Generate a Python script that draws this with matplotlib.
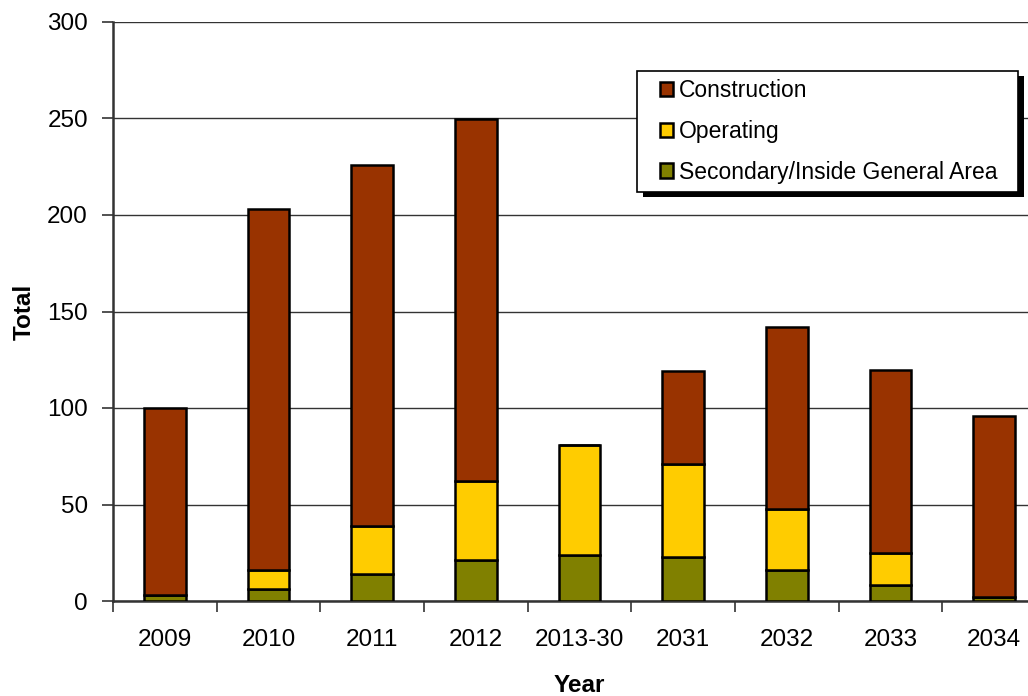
import matplotlib
matplotlib.use("Agg")
import matplotlib.pyplot as plt
from matplotlib.patches import Rectangle
import numpy as np

plt.rcParams['font.family'] = ['Liberation Sans', 'DejaVu Sans']

years = ["2009", "2010", "2011", "2012", "2013-30", "2031", "2032", "2033", "2034"]
secondary = [3, 6, 14, 21, 24, 23, 16, 8.5, 2]
operating = [0, 10, 25, 41, 57, 48, 31.5, 16.5, 0]
construction = [97, 187, 187, 188, 0, 48, 94.5, 94.5, 94]

c_cons = "#993300"
c_op = "#FFCC00"
c_sec = "#808000"

W, H = 1028, 696
fig = plt.figure(figsize=(W / 100, H / 100), dpi=100)
ax = fig.add_axes([113 / W, 1 - 601 / H, 933 / W, 579 / H])

x = np.arange(len(years))
sec = np.array(secondary)
op = np.array(operating)
cons = np.array(construction)
bw = 0.405
ekw = dict(edgecolor="black", linewidth=1.8, zorder=3)
ax.bar(x, sec, bw, color=c_sec, label="Secondary/Inside General Area", **ekw)
ax.bar(x, op, bw, bottom=sec, color=c_op, label="Operating", **ekw)
ax.bar(x, cons, bw, bottom=sec + op, color=c_cons, label="Construction", **ekw)

ax.set_xlim(-0.5, len(years) - 0.5)
ax.set_ylim(0, 300)
ax.set_yticks(range(0, 301, 50))
ax.yaxis.grid(True, color="#333333", linewidth=1.0, zorder=0)
ax.set_axisbelow(True)

# x ticks at category boundaries, labels at centers
ax.set_xticks(np.arange(len(years) + 1) - 0.5)
ax.set_xticklabels([])
ax.set_xticks(x, minor=True)
ax.set_xticklabels(years, minor=True)
ax.tick_params(axis="x", which="major", length=8, width=1.2, color="#333333", direction="out")
ax.tick_params(axis="x", which="minor", length=0, pad=20, labelsize=17.5)
ax.tick_params(axis="y", length=8, width=1.2, color="#333333", labelsize=17.5, pad=10)

for s in ["top", "right"]:
    ax.spines[s].set_visible(False)
ax.spines["left"].set_color("#333333")
ax.spines["left"].set_linewidth(1.8)
ax.spines["bottom"].set_color("#333333")
ax.spines["bottom"].set_linewidth(1.8)

ax.set_ylabel("Total", fontsize=17.5, fontweight="bold", labelpad=8)
ax.set_xlabel("Year", fontsize=17.5, fontweight="bold", labelpad=17)

# legend box with hard black shadow
lx0, lx1, ly0, ly1 = 637, 1018, 71, 192
fig.add_artist(Rectangle(((lx0 + 6) / W, 1 - (ly1 + 5) / H), (lx1 - lx0) / W, (ly1 - ly0) / H,
                         transform=fig.transFigure, facecolor="black", edgecolor="none", zorder=8))
fig.add_artist(Rectangle((lx0 / W, 1 - ly1 / H), (lx1 - lx0) / W, (ly1 - ly0) / H,
                         transform=fig.transFigure, facecolor="white", edgecolor="black",
                         linewidth=1.2, zorder=9))

handles, labels = ax.get_legend_handles_labels()
leg = fig.legend(handles[::-1], labels[::-1], loc="center left",
                 bbox_to_anchor=((lx0 + 23) / W, 1 - ((ly0 + ly1) / 2) / H),
                 bbox_transform=fig.transFigure,
                 borderaxespad=0, borderpad=0, fontsize=16.5, frameon=False,
                 handlelength=0.57, handleheight=0.57, handletextpad=0.24,
                 labelspacing=0.77)
leg.set_zorder(10)

fig.savefig("out.png", dpi=100)
